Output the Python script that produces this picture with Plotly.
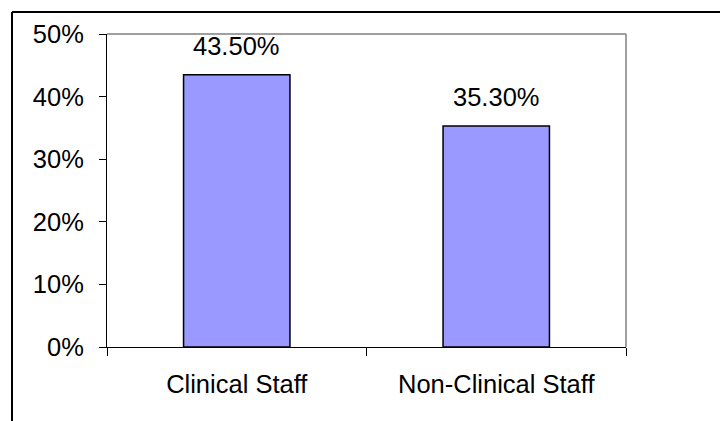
import plotly.graph_objects as go

# Share of staff by group (percent)
categories = ["Clinical Staff", "Non-Clinical Staff"]
values = [43.5, 35.3]
y_ticks = [0, 10, 20, 30, 40, 50]
y_tick_labels = ["0%", "10%", "20%", "30%", "40%", "50%"]

W, H = 720, 421
L, R, T, B = 107, 94, 34, 74
pw, ph = W - L - R, H - T - B

FONT = dict(family="Liberation Sans, Arial, sans-serif", size=25.5, color="black")

fig = go.Figure()
fig.add_trace(go.Bar(
    x=categories, y=values, width=0.41,
    marker=dict(color="#9999FF", line=dict(color="black", width=1.5)),
    hoverinfo="skip",
))

# value labels above bars
for c, v in zip(categories, values):
    fig.add_annotation(x=c, y=v, text=f"{v:.2f}%", showarrow=False,
                       xanchor="center", yanchor="bottom", yshift=13, font=FONT)

def px_x(p):
    return (p - L) / pw

def px_y(p):
    return (H - B - p) / ph

shapes = [
    # gray top and right edges of the plot area
    dict(type="line", xref="paper", yref="paper", x0=0, x1=1, y0=1, y1=1,
         line=dict(color="#808080", width=1.5)),
    dict(type="line", xref="paper", yref="paper", x0=1, x1=1, y0=0, y1=1,
         line=dict(color="#808080", width=1.5)),
    # outer frame (top and left)
    dict(type="line", xref="paper", yref="paper", x0=px_x(12), x1=px_x(722),
         y0=px_y(12), y1=px_y(12), line=dict(color="black", width=2)),
    dict(type="line", xref="paper", yref="paper", x0=px_x(12), x1=px_x(12),
         y0=px_y(12), y1=px_y(425), line=dict(color="black", width=2)),
]

fig.update_layout(
    width=W, height=H,
    margin=dict(l=L, r=R, t=T, b=B, pad=0),
    paper_bgcolor="white", plot_bgcolor="white",
    showlegend=False,
    font=FONT,
    shapes=shapes,
    xaxis=dict(
        type="category", showgrid=False, zeroline=False,
        showline=True, linecolor="black", linewidth=1,
        ticks="outside", ticklen=8, tickcolor="black", tickwidth=1,
        tickson="boundaries", ticklabelstandoff=14,
        range=[-0.5, 1.5], tickfont=FONT,
    ),
    yaxis=dict(
        range=[0, 50], tickvals=y_ticks, ticktext=y_tick_labels,
        showgrid=False, zeroline=False,
        showline=True, linecolor="black", linewidth=1,
        ticks="outside", ticklen=7, tickcolor="black", tickwidth=1,
        ticklabelstandoff=10, tickfont=FONT,
    ),
)

fig.write_html("out.html")
